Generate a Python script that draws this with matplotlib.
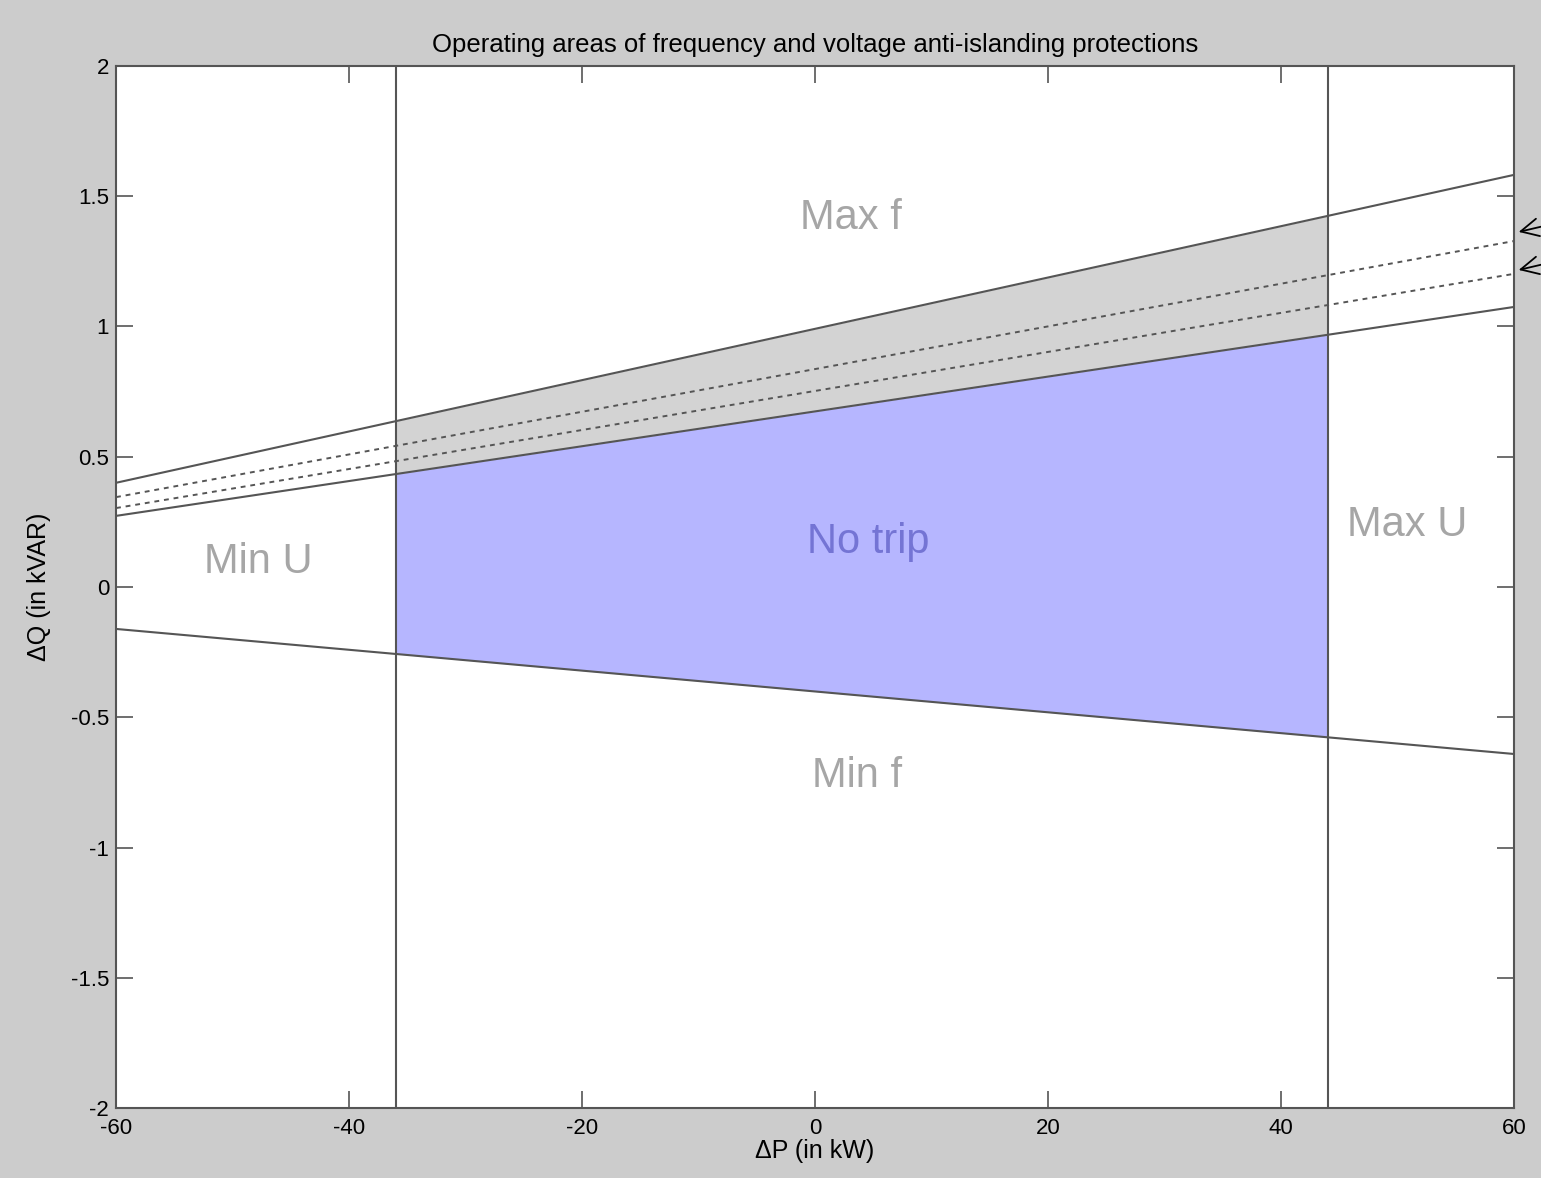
import numpy as np
import matplotlib.pyplot as plt

plt.rcParams['font.family'] = ['Liberation Sans', 'DejaVu Sans']
plt.rcParams['axes.unicode_minus'] = False

# dP range (kW) and line end values (kVAR) at dP = -60 and dP = 60
dP_ends = np.array([-60., 60.])
q_max_f = np.array([0.40, 1.582])       # top solid line
q_dash_hi = np.array([0.345, 1.328])    # upper dashed line
q_dash_lo = np.array([0.303, 1.202])    # lower dashed line
q_lim_hi = np.array([0.273, 1.075])     # lower solid line (upper bound of no-trip)
q_min_f = np.array([-0.161, -0.641])    # bottom line

# voltage limits (kW)
p_min_u = -36.0
p_max_u = 44.0

region_labels = ['Max f', 'No trip', 'Min U', 'Max U', 'Min f']
region_x = [3.1, 4.6, -47.8, 50.8, 3.6]
region_y = [1.417, 0.173, 0.096, 0.238, -0.725]
region_colors = ['#a6a6a6', '#7474d4', '#a6a6a6', '#a6a6a6', '#a6a6a6']

arrow_y = [1.363, 1.217]

bg = '#cccccc'
lc = '#555555'

fig = plt.figure(figsize=(15.41, 11.78), dpi=100, facecolor=bg)
ax = fig.add_axes([0.0753, 0.0594, 0.9072, 0.8846])
ax.set_facecolor('white')

# fills between the voltage limits
xf = np.linspace(p_min_u, p_max_u, 50)
top = np.interp(xf, dP_ends, q_max_f)
mid = np.interp(xf, dP_ends, q_lim_hi)
bot = np.interp(xf, dP_ends, q_min_f)
ax.fill_between(xf, mid, top, color='#d3d3d3', lw=0)
ax.fill_between(xf, bot, mid, color='#b6b6ff', lw=0)

ax.plot(dP_ends, q_max_f, color=lc, lw=1.5)
ax.plot(dP_ends, q_dash_hi, color=lc, lw=1.4, ls=(0, (2.5, 2.5)))
ax.plot(dP_ends, q_dash_lo, color=lc, lw=1.4, ls=(0, (2.5, 2.5)))
ax.plot(dP_ends, q_lim_hi, color=lc, lw=1.5)
ax.plot(dP_ends, q_min_f, color=lc, lw=1.5)
ax.axvline(p_min_u, color=lc, lw=1.5)
ax.axvline(p_max_u, color=lc, lw=1.5)

for lab, x, y, c in zip(region_labels, region_x, region_y, region_colors):
    ax.text(x, y, lab, color=c, fontsize=30, ha='center', va='center')

for y in arrow_y:
    ax.annotate('', xy=(60.4, y), xycoords='data',
                xytext=(1.0, y + 0.02), textcoords=('figure fraction', 'data'),
                arrowprops=dict(arrowstyle='->', color='black', lw=1.3,
                                mutation_scale=32, shrinkA=0, shrinkB=0),
                annotation_clip=False)

ax.set_xlim(-60, 60)
ax.set_ylim(-2, 2)
ax.set_xticks(np.arange(-60, 61, 20))
ax.set_yticks(np.arange(-2, 2.01, 0.5))
ax.set_yticklabels(['-2', '-1.5', '-1', '-0.5', '0', '0.5', '1', '1.5', '2'])
ax.tick_params(direction='in', length=12, width=1.2, color=lc, labelsize=16,
               top=True, right=True)
ax.tick_params(axis='x', pad=7)
ax.tick_params(axis='y', pad=5)
for s in ax.spines.values():
    s.set_color(lc)
    s.set_linewidth(1.5)

ax.set_title('Operating areas of frequency and voltage anti-islanding protections',
             fontsize=18.5, pad=10)
ax.set_xlabel('\u0394P (in kW)', fontsize=18, labelpad=0)
ax.set_ylabel('\u0394Q (in kVAR)', fontsize=18, labelpad=14)

fig.savefig('out.png', dpi=100, facecolor=bg)
